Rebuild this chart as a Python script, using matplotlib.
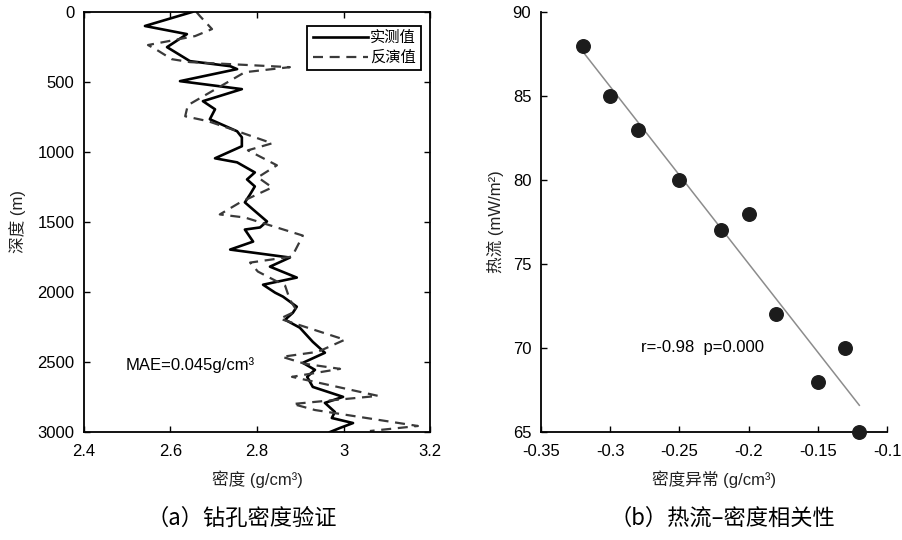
import matplotlib.pyplot as plt
import numpy as np

plt.rcParams['font.family'] = ['Liberation Sans', 'Noto Sans CJK SC']
plt.rcParams['axes.unicode_minus'] = False

# (a) borehole density profile
depth_obs = [0, 100, 158, 251, 351, 387, 408, 494, 551, 637, 695, 766, 852, 895, 959,
             1045, 1074, 1146, 1196, 1246, 1303, 1360, 1411, 1496, 1539, 1554, 1640, 1697,
             1754, 1819, 1897, 1948, 2005, 2033, 2105, 2148, 2198, 2255, 2356, 2434, 2506,
             2556, 2606, 2678, 2749, 2792, 2857, 2900, 2936, 2971, 3000]
dens_obs = [2.65, 2.541, 2.638, 2.592, 2.645, 2.738, 2.754, 2.622, 2.765, 2.675, 2.703,
            2.691, 2.754, 2.765, 2.765, 2.703, 2.754, 2.795, 2.777, 2.795, 2.784, 2.772,
            2.791, 2.823, 2.807, 2.772, 2.791, 2.738, 2.876, 2.830, 2.892, 2.814, 2.842,
            2.860, 2.892, 2.883, 2.865, 2.899, 2.929, 2.957, 2.906, 2.934, 2.916, 2.929,
            2.999, 2.957, 2.980, 2.973, 3.022, 2.992, 2.969]

depth_inv = [0, 29, 122, 172, 236, 272, 337, 358, 394, 430, 666, 745, 780, 838, 938, 988,
             1095, 1181, 1253, 1360, 1446, 1468, 1597, 1747, 1790, 1854, 1955, 2055, 2134,
             2191, 2341, 2427, 2463, 2513, 2549, 2606, 2742, 2800, 2843, 2957, 2993]
dens_inv = [2.66, 2.668, 2.696, 2.657, 2.548, 2.569, 2.603, 2.645, 2.876, 2.772, 2.640,
            2.634, 2.687, 2.742, 2.835, 2.779, 2.846, 2.802, 2.835, 2.761, 2.714, 2.772,
            2.906, 2.881, 2.784, 2.802, 2.865, 2.876, 2.892, 2.853, 3.003, 2.941, 2.858,
            2.911, 2.992, 2.881, 3.080, 2.883, 2.934, 3.172, 3.061]

xticks_a = [2.4, 2.6, 2.8, 3.0, 3.2]
xticklabels_a = ['2.4', '2.6', '2.8', '3', '3.2']
yticks_a = [0, 500, 1000, 1500, 2000, 2500, 3000]

# (b) heat flow vs density anomaly
dens_anom = [-0.32, -0.30, -0.28, -0.25, -0.22, -0.20, -0.18, -0.15, -0.13, -0.12]
heat_flow = [88, 85, 83, 80, 77, 78, 72, 68, 70, 65]

xticks_b = [-0.35, -0.3, -0.25, -0.2, -0.15, -0.1]
xticklabels_b = ['-0.35', '-0.3', '-0.25', '-0.2', '-0.15', '-0.1']
yticks_b = [65, 70, 75, 80, 85, 90]

fig = plt.figure(figsize=(9.03, 5.4), dpi=100)
ax1 = fig.add_axes([0.0930, 0.2, 0.3832, 0.7778])
ax2 = fig.add_axes([0.5991, 0.2, 0.3832, 0.7778])

# ---- left panel
ax1.plot(dens_obs, depth_obs, color='black', lw=1.9, label='实测值')
ax1.plot(dens_inv, depth_inv, color='#3a3a3a', lw=1.6, dashes=(4.5, 3), label='反演值')
ax1.set_xlim(2.4, 3.2)
ax1.set_ylim(3000, 0)
ax1.set_xticks(xticks_a)
ax1.set_xticklabels(xticklabels_a)
ax1.set_yticks(yticks_a)
ax1.tick_params(direction='in', top=True, right=True, length=4, labelsize=12, width=1)
ax1.tick_params(axis='x', pad=9)
ax1.tick_params(axis='y', pad=7)
for s in ax1.spines.values():
    s.set_linewidth(1.3)
ax1.set_xlabel('密度 (g/cm³)', fontsize=12, color='#222222', labelpad=8)
ax1.set_ylabel('深度 (m)', fontsize=12, color='#222222', labelpad=8)
ax1.text(2.497, 2520, 'MAE=0.045g/cm³', fontsize=12, va='center', ha='left')
leg = ax1.legend(loc='upper right', bbox_to_anchor=(0.974, 0.967), borderaxespad=0,
                 fontsize=11, handlelength=3.6, handletextpad=0.15, labelspacing=0.35,
                 borderpad=0.35, fancybox=False, edgecolor='black', framealpha=1)
leg.get_frame().set_linewidth(1.3)

# ---- right panel
coef = np.polyfit(dens_anom, heat_flow, 1)
xfit = np.array([min(dens_anom), max(dens_anom)])
ax2.plot(xfit, np.polyval(coef, xfit), color='#8c8c8c', lw=1.1, zorder=1)
ax2.scatter(dens_anom, heat_flow, s=95, color='#1c1c1c', zorder=3, clip_on=False)
ax2.set_xlim(-0.35, -0.1)
ax2.set_ylim(65, 90)
ax2.set_xticks(xticks_b)
ax2.set_xticklabels(xticklabels_b)
ax2.set_yticks(yticks_b)
ax2.spines['top'].set_visible(False)
ax2.spines['right'].set_visible(False)
for s in ax2.spines.values():
    s.set_linewidth(1.3)
ax2.tick_params(direction='in', length=4, labelsize=12, width=1)
ax2.tick_params(axis='x', pad=9)
ax2.tick_params(axis='y', pad=7)
ax2.set_xlabel('密度异常 (g/cm³)', fontsize=12, color='#222222', labelpad=8)
ax2.set_ylabel('热流 (mW/m²)', fontsize=12, color='#222222', labelpad=6)
ax2.text(-0.278, 70, 'r=-0.98  p=0.000', fontsize=12, va='center', ha='left')

# captions
fig.text(0.268, 0.041, '（a）钻孔密度验证', fontsize=16, ha='center', va='center',
         family=['Noto Sans CJK SC'])
fig.text(0.8, 0.041, '（b）热流–密度相关性', fontsize=16, ha='center', va='center',
         family=['Noto Sans CJK SC'])

fig.savefig('out.png', dpi=100)
